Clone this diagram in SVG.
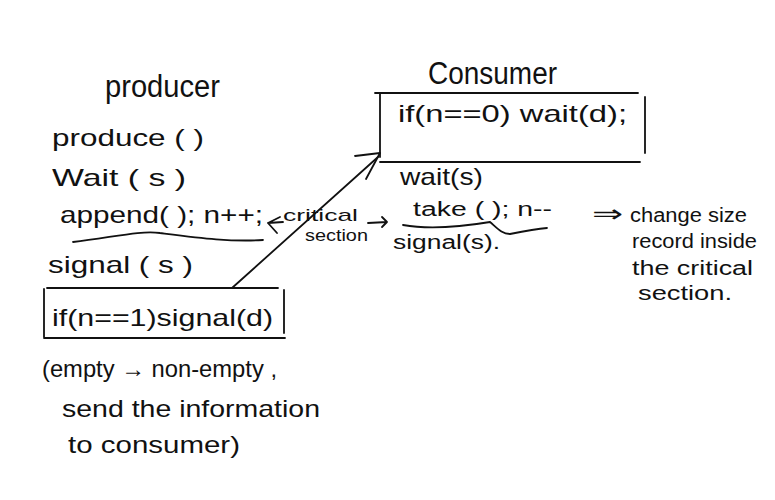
<svg xmlns="http://www.w3.org/2000/svg" width="775" height="500" viewBox="0 0 775 500">
<style>
text{font-family:"Liberation Sans",Arial,sans-serif;fill:#111;}
.t{font-size:24px;}
.h{font-size:31px;}
.s{font-size:20px;}
.c{font-size:17px;}
.ln{stroke:#111;stroke-width:1.8;fill:none;stroke-linecap:round;stroke-linejoin:round;}
</style>
<rect width="775" height="500" fill="#fff"/>
<g id="producer">
<text class="h" x="105" y="97" textLength="115" lengthAdjust="spacingAndGlyphs">producer</text>
<text class="t" x="52" y="146" textLength="152" lengthAdjust="spacingAndGlyphs">produce ( )</text>
<text class="t" x="52" y="186" textLength="134" lengthAdjust="spacingAndGlyphs">Wait ( s )</text>
<text class="t" x="60" y="223" textLength="203" lengthAdjust="spacingAndGlyphs">append( ); n++;</text>
<path class="ln" d="M73,242 C110,238 140,230 160,233 C200,238 230,242 263,240"/>
<text class="t" x="48" y="273" textLength="145" lengthAdjust="spacingAndGlyphs">signal ( s )</text>
</g>
<g id="producer-box">
<path class="ln" d="M47,288 L278,288 M44,289 L44,337 M44,338 L285,338 M284,290 L284,333"/>
<text class="t" x="52" y="326" textLength="221" lengthAdjust="spacingAndGlyphs">if(n==1)signal(d)</text>
</g>
<g id="note-left">
<text class="t" x="42" y="377" textLength="235" lengthAdjust="spacingAndGlyphs">(empty → non-empty ,</text>
<text class="t" x="62" y="417" textLength="258" lengthAdjust="spacingAndGlyphs">send the information</text>
<text class="t" x="68" y="453" textLength="172" lengthAdjust="spacingAndGlyphs">to consumer)</text>
</g>
<g id="critical-section">
<text class="c" x="283" y="221" textLength="75" lengthAdjust="spacingAndGlyphs">critical</text>
<text class="c" x="305" y="241" textLength="63" lengthAdjust="spacingAndGlyphs">section</text>
</g>
<g id="consumer">
<text class="h" x="428" y="84" textLength="129" lengthAdjust="spacingAndGlyphs">Consumer</text>
<path class="ln" d="M375,93 L638,93 M380,93 L380,157 M380,162 L640,162 M645,97 L645,153"/>
<text class="t" x="398" y="122" textLength="229" lengthAdjust="spacingAndGlyphs">if(n==0) wait(d);</text>
<text class="t" x="400" y="185" textLength="83" lengthAdjust="spacingAndGlyphs">wait(s)</text>
<text class="s" x="413" y="216" textLength="139" lengthAdjust="spacingAndGlyphs">take ( ); n--</text>
<path class="ln" d="M403,225 C430,230 460,227 490,222 C498,229 502,234 510,234 C525,231 535,229 547,228"/>
<text class="s" x="393" y="249" textLength="107" lengthAdjust="spacingAndGlyphs">signal(s).</text>
</g>
<g id="note-right">
<text class="t" x="592" y="222" textLength="31" lengthAdjust="spacingAndGlyphs">⇒</text>
<text class="s" x="630" y="222" textLength="117" lengthAdjust="spacingAndGlyphs">change size</text>
<text class="s" x="632" y="248" textLength="125" lengthAdjust="spacingAndGlyphs">record inside</text>
<text class="s" x="632" y="275" textLength="121" lengthAdjust="spacingAndGlyphs">the critical</text>
<text class="s" x="638" y="300" textLength="94" lengthAdjust="spacingAndGlyphs">section.</text>
</g>
<g id="connectors">
<path class="ln" d="M232,288 L378,157"/>
<path class="ln" d="M355,156 L380,153 L366,179"/>
<path class="ln" d="M283,222 L268,223 M280,217 L268,223 L277,233"/>
<path class="ln" d="M368,223 L387,222 M382,217 L387,222 L382,227"/>
</g>
</svg>
